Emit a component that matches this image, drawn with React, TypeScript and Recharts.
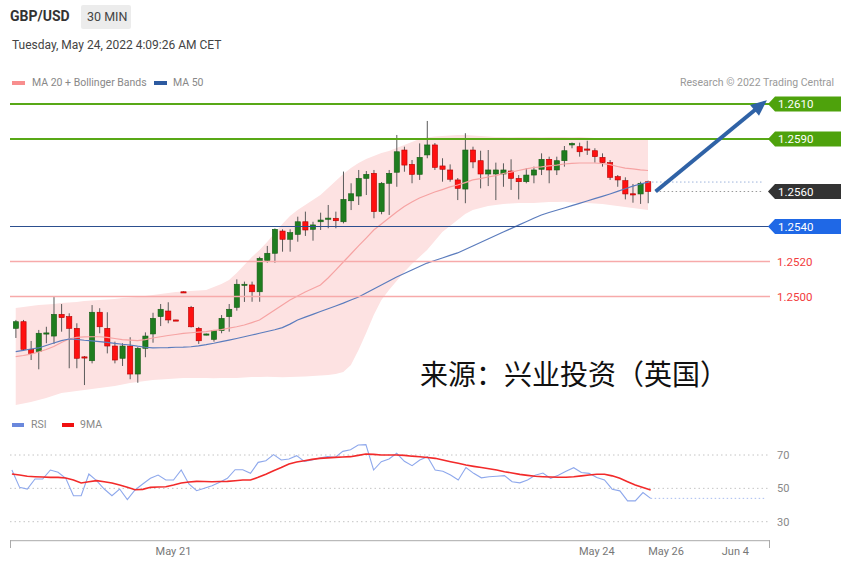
import React from 'react';
import { ComposedChart, Bar, Line, Area, XAxis, YAxis, ReferenceLine } from 'recharts';

const FONT = 'Roboto, "Liberation Sans", Arial, sans-serif';

// ---- candles (30 min) ----
const OPEN = [1.24818,1.24856,1.24698,1.24685,1.24788,1.24774,1.24898,1.24885,1.24818,1.24655,1.24633,1.24910,1.24818,1.24717,1.24647,1.24717,1.24557,1.24704,1.24786,1.24885,1.24917,1.24866,1.25027,1.24938,1.24818,1.24782,1.24755,1.24805,1.24885,1.24938,1.25066,1.25066,1.25027,1.25205,1.25247,1.25374,1.25327,1.25355,1.25427,1.25384,1.25427,1.25446,1.25447,1.25427,1.25547,1.25574,1.25675,1.25704,1.25485,1.25647,1.25710,1.25837,1.25755,1.25698,1.25809,1.25866,1.25746,1.25723,1.25666,1.25614,1.25837,1.25776,1.25700,1.25700,1.25700,1.25717,1.25675,1.25656,1.25694,1.25727,1.25784,1.25723,1.25776,1.25866,1.25856,1.25843,1.25833,1.25795,1.25765,1.25685,1.25662,1.25587,1.25586,1.25656];
const HIGH = [1.24866,1.24866,1.24746,1.24809,1.24827,1.24999,1.24957,1.24904,1.24847,1.24660,1.24951,1.24933,1.24910,1.24742,1.24733,1.24767,1.24711,1.24795,1.24907,1.24957,1.24967,1.24867,1.25029,1.24946,1.24826,1.24788,1.24809,1.24894,1.24957,1.25098,1.25085,1.25085,1.25227,1.25289,1.25389,1.25384,1.25384,1.25456,1.25485,1.25427,1.25479,1.25523,1.25485,1.25714,1.25647,1.25723,1.25717,1.25723,1.25654,1.25723,1.25923,1.25856,1.25780,1.25875,1.26003,1.25877,1.25790,1.25755,1.25677,1.25933,1.25856,1.25833,1.25837,1.25765,1.25761,1.25784,1.25694,1.25733,1.25742,1.25818,1.25799,1.25799,1.25860,1.25880,1.25879,1.25890,1.25847,1.25818,1.25780,1.25694,1.25681,1.25643,1.25656,1.25662];
const LOW = [1.24763,1.24694,1.24637,1.24584,1.24733,1.24729,1.24799,1.24590,1.24590,1.24494,1.24618,1.24790,1.24675,1.24618,1.24603,1.24527,1.24507,1.24653,1.24736,1.24831,1.24847,1.24863,1.25025,1.24823,1.24729,1.24778,1.24742,1.24790,1.24799,1.24919,1.24969,1.24970,1.24970,1.25193,1.25193,1.25256,1.25256,1.25313,1.25346,1.25319,1.25380,1.25390,1.25390,1.25418,1.25494,1.25523,1.25580,1.25447,1.25470,1.25466,1.25627,1.25713,1.25647,1.25666,1.25790,1.25723,1.25656,1.25656,1.25551,1.25533,1.25733,1.25618,1.25631,1.25551,1.25627,1.25609,1.25555,1.25647,1.25647,1.25694,1.25647,1.25694,1.25742,1.25847,1.25799,1.25809,1.25765,1.25742,1.25666,1.25627,1.25555,1.25536,1.25529,1.25533];
const CLOSE = [1.24856,1.24698,1.24675,1.24790,1.24792,1.24898,1.24879,1.24818,1.24647,1.24650,1.24910,1.24827,1.24717,1.24637,1.24717,1.24557,1.24704,1.24774,1.24875,1.24927,1.24866,1.24864,1.25026,1.24827,1.24747,1.24786,1.24805,1.24875,1.24927,1.25070,1.25070,1.25027,1.25218,1.25247,1.25384,1.25327,1.25365,1.25427,1.25380,1.25409,1.25437,1.25448,1.25433,1.25555,1.25587,1.25675,1.25698,1.25485,1.25647,1.25704,1.25827,1.25751,1.25698,1.25795,1.25866,1.25738,1.25727,1.25670,1.25618,1.25837,1.25769,1.25700,1.25723,1.25723,1.25723,1.25675,1.25656,1.25694,1.25723,1.25784,1.25723,1.25776,1.25833,1.25875,1.25827,1.25840,1.25799,1.25765,1.25681,1.25666,1.25586,1.25585,1.25647,1.25600];

// ---- overlays ----
const MA20 = [1.24656,1.24663,1.24671,1.24683,1.24697,1.24714,1.24737,1.24757,1.24766,1.24769,1.24770,1.24770,1.24766,1.24760,1.24754,1.24751,1.24748,1.24754,1.24763,1.24770,1.24777,1.24783,1.24789,1.24793,1.24796,1.24799,1.24806,1.24811,1.24819,1.24827,1.24837,1.24851,1.24866,1.24894,1.24923,1.24951,1.24980,1.25003,1.25026,1.25046,1.25066,1.25106,1.25151,1.25197,1.25243,1.25289,1.25334,1.25380,1.25414,1.25449,1.25483,1.25514,1.25540,1.25563,1.25580,1.25597,1.25611,1.25626,1.25637,1.25651,1.25666,1.25674,1.25683,1.25691,1.25703,1.25711,1.25720,1.25729,1.25737,1.25741,1.25746,1.25751,1.25757,1.25761,1.25763,1.25763,1.25763,1.25760,1.25754,1.25743,1.25734,1.25729,1.25724,1.25720];
const MA50 = [1.24685,1.24692,1.24700,1.24706,1.24720,1.24734,1.24748,1.24757,1.24755,1.24750,1.24746,1.24742,1.24738,1.24732,1.24727,1.24723,1.24716,1.24710,1.24706,1.24707,1.24708,1.24710,1.24711,1.24713,1.24718,1.24725,1.24733,1.24742,1.24751,1.24760,1.24770,1.24780,1.24790,1.24800,1.24810,1.24822,1.24842,1.24866,1.24882,1.24898,1.24914,1.24930,1.24946,1.24962,1.24980,1.24997,1.25020,1.25043,1.25066,1.25089,1.25111,1.25131,1.25151,1.25171,1.25191,1.25206,1.25220,1.25235,1.25249,1.25269,1.25289,1.25309,1.25329,1.25349,1.25369,1.25388,1.25408,1.25427,1.25447,1.25466,1.25480,1.25493,1.25506,1.25519,1.25532,1.25546,1.25559,1.25572,1.25586,1.25601,1.25616,1.25631,1.25643,1.25654];
const BB_UPPER = [1.24934,1.24940,1.24946,1.24951,1.24954,1.24957,1.24963,1.24966,1.24969,1.24974,1.24977,1.24980,1.24983,1.24986,1.24991,1.24994,1.24997,1.25003,1.25009,1.25014,1.25020,1.25026,1.25029,1.25031,1.25034,1.25037,1.25054,1.25071,1.25094,1.25134,1.25180,1.25226,1.25266,1.25311,1.25363,1.25414,1.25460,1.25494,1.25523,1.25551,1.25580,1.25620,1.25660,1.25700,1.25734,1.25763,1.25786,1.25803,1.25820,1.25831,1.25849,1.25866,1.25883,1.25900,1.25909,1.25914,1.25917,1.25920,1.25923,1.25923,1.25920,1.25917,1.25914,1.25911,1.25912,1.25910,1.25911,1.25912,1.25911,1.25910,1.25911,1.25912,1.25911,1.25910,1.25911,1.25909,1.25906,1.25906,1.25903,1.25900,1.25900,1.25897,1.25894,1.25894];
const BB_LOWER = [1.24380,1.24389,1.24397,1.24409,1.24420,1.24434,1.24449,1.24454,1.24460,1.24466,1.24471,1.24477,1.24483,1.24489,1.24497,1.24506,1.24511,1.24517,1.24523,1.24526,1.24529,1.24531,1.24534,1.24534,1.24535,1.24534,1.24533,1.24534,1.24535,1.24534,1.24537,1.24540,1.24540,1.24541,1.24540,1.24539,1.24540,1.24541,1.24543,1.24546,1.24549,1.24551,1.24557,1.24569,1.24609,1.24694,1.24791,1.24894,1.24980,1.25037,1.25089,1.25140,1.25186,1.25226,1.25266,1.25317,1.25369,1.25403,1.25437,1.25471,1.25494,1.25506,1.25517,1.25523,1.25529,1.25531,1.25534,1.25535,1.25534,1.25537,1.25540,1.25540,1.25541,1.25537,1.25534,1.25534,1.25531,1.25529,1.25523,1.25517,1.25511,1.25506,1.25500,1.25494];

// ---- RSI panel ----
const RSI = [61,50.6,49.6,55.6,55.6,61,59.6,56,45.6,45.6,58.6,54.6,49.6,45.6,49.6,43.2,49,52.6,56,58,55,55,61,52.6,48.6,50,51.6,53.6,56,61.2,61.2,59,65.6,66.6,70.2,67,67.6,69.6,66.2,67,68.2,69,68.6,72.2,73.2,76,76.2,61,66,67.6,71,66.2,63.6,67,69,61,60.3,58,55,62.5,59,56.3,57,57.3,57.6,54,53.3,55,57.8,59.2,56,57.8,60.2,62.4,59.5,59,56.5,55,49.5,48.5,42.5,42.5,47.5,44];
const RSI_MA9 = [58.6,58,57.3,57,56.8,56.6,56.6,56.2,55,53.2,54,54.6,54,53.2,52,50.6,49.2,49.4,50.6,50.8,51,52,53.2,53.8,54.2,54.1,54,54.1,54.2,54.6,55,55,56.6,58.5,60.6,62.5,64.6,65.8,66.6,67.4,68,68.3,68.6,68.8,69,69.8,70.6,70.4,70,70,70,69.8,69.3,69,68.5,68,67,66,65,64,63.2,62.5,61.8,61,60,59.2,58.4,57.8,57.3,57,56.8,56.7,56.7,57,57.5,58,58.5,58.5,57.5,56,54,52,50.5,49];
const RSI_LEVELS = [70, 50, 30];

// ---- axis ----
const SLOT_COUNT = 99; // candles + projection space
const X_TICK_SLOTS = [21, 76, 85, 94];
const X_TICK_LABELS = ['May 21', 'May 24', 'May 26', 'Jun 4'];

// ---- key levels ----
const LEVEL_PRICES = [1.2610, 1.2590, 1.2560, 1.2540, 1.2520, 1.2500];
const LEVEL_TEXT = ['1.2610', '1.2590', '1.2560', '1.2540', '1.2520', '1.2500'];
const LEVEL_KIND = ['res', 'res', 'last', 'piv', 'sup', 'sup'];
const TARGET_FROM = { slot: 84, price: 1.2560 };
const TARGET_TO = { slot: 98, price: 1.2610 };

const PRICE_DOMAIN = [1.2438, 1.2618];
const RSI_DOMAIN = [18.6, 80.2];

const LEVEL_STYLE: Record<string, any> = {
  res: { stroke: '#58a816', width: 2, tag: '#4ea20c' },
  last: { stroke: 'none', width: 0, tag: '#333333' },
  piv: { stroke: '#2c4f8f', width: 1, tag: '#1f68e6' },
  sup: { stroke: '#f7aaaa', width: 1.5, text: '#f23c3c' },
};

const rows = Array.from({ length: SLOT_COUNT }, (_, i) => {
  const has = i < CLOSE.length;
  return {
    i,
    o: has ? OPEN[i] : null,
    h: has ? HIGH[i] : null,
    l: has ? LOW[i] : null,
    c: has ? CLOSE[i] : null,
    ma20: has ? MA20[i] : null,
    ma50: has ? MA50[i] : null,
    band: has ? [BB_LOWER[i], BB_UPPER[i]] : null,
    rsi: has ? RSI[i] : null,
    rsiMa: has ? RSI_MA9[i] : null,
  };
});

const Candle = (props: any) => {
  const { x, y, width, height, payload } = props;
  if (!payload || payload.o == null || !isFinite(y) || !isFinite(height)) return null;
  const { o, h, l, c } = payload;
  const top = Math.min(y, y + height);
  const bot = Math.max(y, y + height);
  const k = h - l > 0 ? (bot - top) / (h - l) : 0;
  const yO = top + (h - o) * k;
  const yC = top + (h - c) * k;
  const cx = x + width / 2;
  const up = c >= o;
  const bTop = Math.min(yO, yC);
  const bH = Math.max(Math.abs(yO - yC), 1.2);
  return (
    <g>
      <line x1={cx} x2={cx} y1={top} y2={bot} stroke="#5a5a5a" strokeWidth={1} />
      <rect x={cx - 2.6} y={bTop} width={5.2} height={bH} fill={up ? '#1f7d1f' : '#ff1010'} stroke={up ? '#165c16' : '#b30000'} strokeWidth={0.6} />
    </g>
  );
};

const Tag = (props: any) => {
  const { viewBox, text, bg, color } = props;
  if (!viewBox) return null;
  const x0 = viewBox.x + viewBox.width - 2;
  const y = viewBox.y;
  const hh = 7.5;
  if (bg) {
    return (
      <g>
        <polygon points={`${x0},${y} ${x0 + 7},${y - hh} 841,${y - hh} 841,${y + hh} ${x0 + 7},${y + hh}`} fill={bg} />
        <text x={x0 + 10} y={y} dy="0.36em" fill="#fff" fontSize={11.5} fontFamily={FONT}>{text}</text>
      </g>
    );
  }
  return <text x={x0 + 9} y={y} dy="0.36em" fill={color} fontSize={11.5} fontFamily={FONT}>{text}</text>;
};

const RsiLabel = (props: any) => {
  const { viewBox, text } = props;
  if (!viewBox) return null;
  return <text x={viewBox.x + viewBox.width + 7} y={viewBox.y} dy="0.36em" fill="#888" fontSize={11} fontFamily={FONT}>{text}</text>;
};

const Arrow = (props: any) => {
  const { x1, y1, x2, y2 } = props;
  const dx = x2 - x1, dy = y2 - y1;
  const len = Math.hypot(dx, dy) || 1;
  const ux = dx / len, uy = dy / len;
  const tx = x2 + ux * 6, ty = y2 + uy * 6;
  const hl = 16, hw = 7;
  const bx = tx - ux * hl, by = ty - uy * hl;
  const px = -uy, py = ux;
  return (
    <g>
      <line x1={x1} y1={y1} x2={bx + ux * 2} y2={by + uy * 2} stroke="#2f62a6" strokeWidth={4} />
      <polygon points={`${tx},${ty} ${bx + px * hw},${by + py * hw} ${bx - px * hw},${by - py * hw}`} fill="#2f62a6" />
    </g>
  );
};

const tickLabel = (v: any) => {
  const k = X_TICK_SLOTS.indexOf(Number(v));
  return k >= 0 ? X_TICK_LABELS[k] : '';
};

const text = (style: any) => ({ position: 'absolute' as const, fontFamily: FONT, whiteSpace: 'nowrap' as const, ...style });

export default function App() {
  const lastIdx = CLOSE.length - 1;
  return (
    <div style={{ position: 'absolute', left: 0, top: 0, width: 841, height: 566, background: '#fff', overflow: 'hidden' }}>
      {/* header */}
      <div style={text({ left: 10, top: 8, fontSize: 14, fontWeight: 700, color: '#333' })}>GBP/USD</div>
      <div style={{ position: 'absolute', left: 81, top: 5, width: 50, height: 24, background: '#ececec', borderRadius: 2 }} />
      <div style={text({ left: 87, top: 9, fontSize: 12.5, color: '#444' })}>30 MIN</div>
      <div style={text({ left: 12, top: 38, fontSize: 12, color: '#444' })}>Tuesday, May 24, 2022 4:09:26 AM CET</div>

      {/* legend */}
      <div style={{ position: 'absolute', left: 12, top: 81, width: 13, height: 4, background: '#f88e8e' }} />
      <div style={text({ left: 32, top: 76, fontSize: 10.5, color: '#888' })}>MA 20 + Bollinger Bands</div>
      <div style={{ position: 'absolute', left: 154, top: 81, width: 13, height: 4, background: '#2d5aa0' }} />
      <div style={text({ left: 173, top: 76, fontSize: 10.5, color: '#888' })}>MA 50</div>
      <div style={text({ right: 7, top: 76, fontSize: 10.5, color: '#999' })}>Research © 2022 Trading Central</div>

      {/* main price chart */}
      <div style={{ position: 'absolute', left: 0, top: 0 }}>
        <ComposedChart width={841} height={410} data={rows} margin={{ top: 90, right: 71, bottom: 5, left: 10 }}>
          <XAxis dataKey="i" type="category" hide padding={{ left: 1.9, right: 3.9 }} />
          <YAxis hide type="number" domain={PRICE_DOMAIN} allowDataOverflow />
          <Area dataKey="band" stroke="none" fill="#fde2e2" fillOpacity={1} isAnimationActive={false} dot={false} activeDot={false} />
          <Line dataKey="ma20" stroke="#f6a3a3" strokeWidth={1.2} dot={false} activeDot={false} isAnimationActive={false} />
          <Line dataKey="ma50" stroke="#5b7cbd" strokeWidth={1.2} dot={false} activeDot={false} isAnimationActive={false} />
          {LEVEL_PRICES.map((p, k) => {
            const st = LEVEL_STYLE[LEVEL_KIND[k]];
            return (
              <ReferenceLine
                key={LEVEL_TEXT[k]}
                y={p}
                stroke={st.stroke}
                strokeWidth={st.width}
                label={<Tag text={LEVEL_TEXT[k]} bg={st.tag} color={st.text} />}
              />
            );
          })}
          <ReferenceLine
            segment={[{ x: lastIdx, y: MA50[lastIdx] }, { x: SLOT_COUNT - 1, y: MA50[lastIdx] }]}
            stroke="#9db3dc"
            strokeDasharray="1.5 2.5"
            strokeWidth={1}
          />
          <ReferenceLine
            segment={[{ x: lastIdx + 1, y: CLOSE[lastIdx] }, { x: SLOT_COUNT - 1, y: CLOSE[lastIdx] }]}
            stroke="#999"
            strokeDasharray="1.5 2.5"
            strokeWidth={1}
          />
          <Bar dataKey={(d: any) => (d.o == null ? null : [d.l, d.h])} barSize={6} shape={(p: any) => <Candle {...p} />} isAnimationActive={false} />
          <ReferenceLine
            segment={[{ x: TARGET_FROM.slot, y: TARGET_FROM.price }, { x: TARGET_TO.slot, y: TARGET_TO.price }]}
            shape={(p: any) => <Arrow {...p} />}
          />
        </ComposedChart>
      </div>

      {/* source watermark */}
      <div style={text({ left: 420, top: 358, fontSize: 28, lineHeight: '30px', color: '#111', fontFamily: '"Noto Sans CJK SC", sans-serif' })}>来源：兴业投资（英国）</div>

      {/* RSI legend */}
      <div style={{ position: 'absolute', left: 12, top: 423, width: 12, height: 4, background: '#6a88dc' }} />
      <div style={text({ left: 31, top: 418, fontSize: 10.5, color: '#888' })}>RSI</div>
      <div style={{ position: 'absolute', left: 62, top: 423, width: 12, height: 4, background: '#f01010' }} />
      <div style={text({ left: 80, top: 418, fontSize: 10.5, color: '#888' })}>9MA</div>

      {/* RSI chart */}
      <div style={{ position: 'absolute', left: 0, top: 430 }}>
        <ComposedChart width={841} height={136} data={rows} margin={{ top: 8, right: 71, bottom: 0, left: 10 }}>
          <XAxis
            dataKey="i"
            type="category"
            padding={{ left: 1.9, right: 3.9 }}
            ticks={X_TICK_SLOTS}
            interval={0}
            tickFormatter={tickLabel}
            height={25.3}
            tickLine={false}
            tickSize={4}
            axisLine={{ stroke: '#aaa' }}
            tick={{ fontSize: 11, fill: '#777', fontFamily: FONT }}
          />
          <YAxis hide type="number" domain={RSI_DOMAIN} allowDataOverflow />
          {RSI_LEVELS.map((v) => (
            <ReferenceLine key={v} y={v} stroke="#c4c4c4" strokeDasharray="1.5 3" label={<RsiLabel text={String(v)} />} />
          ))}
          <ReferenceLine
            segment={[{ x: lastIdx, y: RSI[lastIdx] }, { x: SLOT_COUNT - 1, y: RSI[lastIdx] }]}
            stroke="#a8bcef"
            strokeDasharray="1.5 2.5"
          />
          <Line dataKey="rsi" stroke="#8ea8ec" strokeWidth={1.1} dot={false} activeDot={false} isAnimationActive={false} />
          <Line dataKey="rsiMa" stroke="#f22a2a" strokeWidth={1.6} dot={false} activeDot={false} isAnimationActive={false} />
        </ComposedChart>
      </div>

      {/* axis end marks */}
      <div style={{ position: 'absolute', left: 10, top: 540, width: 1, height: 8, background: '#aaa' }} />
      <div style={{ position: 'absolute', left: 769, top: 540, width: 1, height: 8, background: '#aaa' }} />
    </div>
  );
}
